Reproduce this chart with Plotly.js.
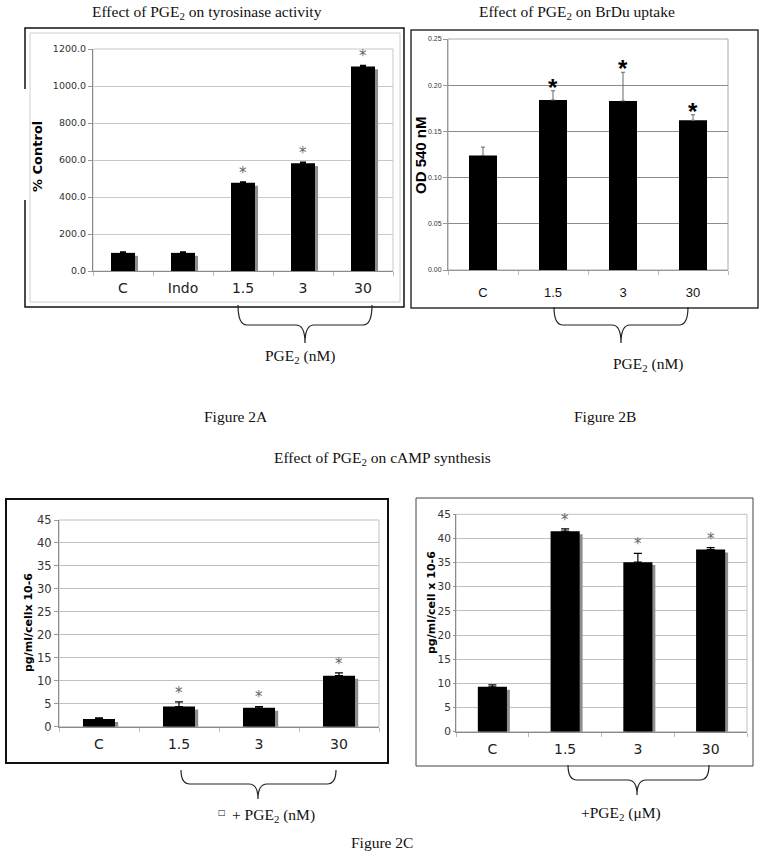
<!DOCTYPE html>
<html><head><meta charset="utf-8">
<script src="https://cdn.plot.ly/plotly-3.0.1.min.js"></script>
<style>html,body{margin:0;padding:0;background:#fff}</style>
</head><body><div id="chart" style="width:764px;height:857px"></div>
<script>
// ---- Figure 2A: tyrosinase activity (% control)
const catsA = ['C', 'Indo', '1.5', '3', '30'];
const valsA = [98, 98, 477, 583, 1106];
const errA  = [6, 5, 5, 6, 6];
const sigA  = [false, false, true, true, true];
// ---- Figure 2B: BrDu uptake (OD 540 nM)
const catsB = ['C', '1.5', '3', '30'];
const valsB = [0.124, 0.184, 0.183, 0.162];
const errB  = [0.009, 0.010, 0.031, 0.006];
const sigB  = [false, true, true, true];
// ---- Figure 2C left: cAMP (nM PGE2)
const catsC1 = ['C', '1.5', '3', '30'];
const valsC1 = [1.7, 4.4, 4.1, 11.1];
const errC1  = [0.2, 1.0, 0.3, 0.6];
const sigC1  = [false, true, true, true];
// ---- Figure 2C right: cAMP (uM PGE2)
const catsC2 = ['C', '1.5', '3', '30'];
const valsC2 = [9.3, 41.5, 35.1, 37.7];
const errC2  = [0.4, 0.5, 1.8, 0.4];
const sigC2  = [false, true, true, true];

const W = 764, H = 857;
const px = x => x / W, py = y => 1 - y / H;
const SERIF = 'Liberation Serif', VERD = 'DejaVu Sans', ARIAL = 'Liberation Sans';

const traces = [];
function addPanel(cats, vals, errs, xa, ya, shadow, errStyle) {
  if (shadow) {
    traces.push({type: 'bar', x: cats, y: vals, base: -shadow.dy, width: 0.4, offset: -0.2 + shadow.dx,
      marker: {color: '#8e8e8e', line: {width: 0}}, xaxis: xa, yaxis: ya, hoverinfo: 'skip'});
  }
  traces.push({type: 'bar', x: cats, y: vals, width: 0.4,
    marker: {color: '#000', line: {width: 0}},
    error_y: Object.assign({type: 'data', symmetric: false, array: errs, arrayminus: errs.map(() => 0)}, errStyle),
    xaxis: xa, yaxis: ya});
}
addPanel(catsA, valsA, errA, 'x', 'y', {dx: 0.05, dy: 16}, {color: '#000', thickness: 1.2, width: 3});
addPanel(catsB, valsB, errB, 'x2', 'y2', null, {color: '#666', thickness: 1, width: 2});
addPanel(catsC1, valsC1, errC1, 'x3', 'y3', {dx: 0.04, dy: 0.65}, {color: '#000', thickness: 1.2, width: 4});
addPanel(catsC2, valsC2, errC2, 'x4', 'y4', {dx: 0.04, dy: 0.62}, {color: '#000', thickness: 1.2, width: 4});

function xax(x0, x1, anchor, n, font, standoff, linecolor) {
  return {domain: [px(x0), px(x1)], anchor: anchor, type: 'category', range: [-0.5, n - 0.5],
    showgrid: false, zeroline: false, showline: true, linecolor: linecolor, linewidth: 1,
    ticks: 'outside', tickson: 'boundaries', ticklen: 4, tickcolor: '#bbb',
    tickfont: font, ticklabelstandoff: standoff, fixedrange: true};
}
function yax(y0, y1, anchor, range, dtick, fmt, font, grid, linecolor, ticklen) {
  return {domain: [py(y1), py(y0)], anchor: anchor, range: range, dtick: dtick, tickformat: fmt,
    showgrid: true, gridcolor: grid, gridwidth: 1, zeroline: false, showline: true, linecolor: linecolor,
    ticks: 'outside', ticklen: ticklen, tickcolor: '#999', tickfont: font, fixedrange: true};
}

const layout = {
  width: W, height: H, margin: {l: 0, r: 0, t: 0, b: 0},
  paper_bgcolor: '#fff', plot_bgcolor: 'rgba(0,0,0,0)', showlegend: false, barmode: 'overlay',
  font: {family: VERD, color: '#000'},
  xaxis:  xax(93, 393, 'y', catsA.length, {family: VERD, size: 14, color: '#222'}, 4, '#8a8a8a'),
  yaxis:  yax(49, 271, 'x', [0, 1200], 200, '.1f', {family: VERD, size: 9.5, color: '#333'}, '#c8c8c8', '#8a8a8a', 4),
  xaxis2: xax(448, 728, 'y2', catsB.length, {family: ARIAL, size: 13, color: '#111'}, 10, '#999'),
  yaxis2: yax(39, 270, 'x2', [0, 0.25], 0.05, '.2f', {family: ARIAL, size: 7, color: '#333'}, '#8c8c8c', '#999', 4),
  xaxis3: xax(59, 379, 'y3', catsC1.length, {family: VERD, size: 14, color: '#222'}, 4, '#8a8a8a'),
  yaxis3: yax(520, 726.7, 'x3', [0, 45], 5, 'd', {family: VERD, size: 11.5, color: '#333'}, '#c0c0c0', '#8a8a8a', 4),
  xaxis4: xax(456, 747, 'y4', catsC2.length, {family: VERD, size: 14, color: '#222'}, 4, '#8a8a8a'),
  yaxis4: yax(514.3, 731.7, 'x4', [0, 45], 5, 'd', {family: VERD, size: 10.5, color: '#333'}, '#c0c0c0', '#8a8a8a', 2),
  shapes: [], annotations: []
};

const S = layout.shapes, A = layout.annotations;
function rect(x0, y0, x1, y1, color, width) {
  S.push({type: 'rect', xref: 'paper', yref: 'paper', x0: px(x0), x1: px(x1), y0: py(y1), y1: py(y0),
    line: {color: color, width: width}, fillcolor: 'rgba(0,0,0,0)', layer: 'above'});
}
function frame(xr, yr, color) {
  S.push({type: 'rect', xref: xr + ' domain', yref: yr + ' domain', x0: 0, x1: 1, y0: 0, y1: 1,
    line: {color: color, width: 1}, layer: 'below'});
}
// panel boxes
rect(25, 28, 404, 307, '#111', 1.5);
rect(30, 33, 400, 302, '#cfcfcf', 1);
S.push({type: 'rect', xref: 'paper', yref: 'paper', x0: px(18), x1: px(29), y0: py(200), y1: py(89),
  line: {width: 0}, fillcolor: '#fff', layer: 'above'});
rect(411, 30, 758, 308, '#333', 1.5);
rect(6, 499, 388, 763, '#111', 2);
rect(416, 498, 753, 766, '#444', 1);
frame('x', 'y', '#c8c8c8');
frame('x2', 'y2', '#aaa');
frame('x3', 'y3', '#c0c0c0');
frame('x4', 'y4', '#c0c0c0');

// braces
function brace(x0, x1, xc, yTop, yMid, yTip, r) {
  const P = (x, y) => px(x).toFixed(5) + ',' + py(y).toFixed(5);
  return 'M' + P(x0, yTop) + ' Q' + P(x0, yMid) + ' ' + P(x0 + r, yMid) + ' L' + P(xc - r, yMid) +
    ' Q' + P(xc, yMid) + ' ' + P(xc, yTip) + ' Q' + P(xc, yMid) + ' ' + P(xc + r, yMid) +
    ' L' + P(x1 - r, yMid) + ' Q' + P(x1, yMid) + ' ' + P(x1, yTop);
}
[[238, 372, 305, 305, 325, 343], [554, 688, 621, 307, 325, 343],
 [181, 336, 258, 770, 784, 799], [568, 709, 637, 765, 780, 795]].forEach(b => {
  S.push({type: 'path', xref: 'paper', yref: 'paper', path: brace(b[0], b[1], b[2], b[3], b[4], b[5], 9),
    line: {color: '#222', width: 1.2}});
});

// text
function txt(x, y, text, font, extra) {
  A.push(Object.assign({xref: 'paper', yref: 'paper', x: px(x), y: py(y), text: text, showarrow: false,
    xanchor: 'center', yanchor: 'middle', font: font}, extra || {}));
}
const tfont = {family: SERIF, size: 15.5, color: '#111'};
txt(207, 13, 'Effect of PGE<sub>2</sub> on tyrosinase activity', tfont);
txt(577, 13, 'Effect of PGE<sub>2</sub> on BrDu uptake', tfont);
txt(300, 356, 'PGE<sub>2</sub> (nM)', tfont);
txt(648, 364, 'PGE<sub>2</sub> (nM)', tfont);
txt(236, 416, 'Figure 2A', tfont);
txt(605, 416, 'Figure 2B', tfont);
txt(382, 458, 'Effect of PGE<sub>2</sub> on cAMP synthesis', tfont);
txt(222, 812, '□', {family: VERD, size: 8, color: '#111'});
txt(273, 815, '+ PGE<sub>2</sub> (nM)', tfont);
txt(621, 813, '+PGE<sub>2</sub> (μM)', tfont);
txt(382, 842, 'Figure 2C', tfont);
// axis titles
txt(37, 157, '<b>% Control</b>', {family: VERD, size: 13, color: '#000'}, {textangle: -90});
txt(421, 155, '<b>OD 540 nM</b>', {family: ARIAL, size: 15, color: '#000'}, {textangle: -90});
txt(28, 622, '<b>pg/ml/cellx 10-6</b>', {family: VERD, size: 11, color: '#000'}, {textangle: -90});
txt(431, 603, '<b>pg/ml/cell x 10-6</b>', {family: VERD, size: 11, color: '#000'}, {textangle: -90});

// significance asterisks (x given as category index)
function stars(cats, vals, errs, sig, xa, ya, font, yshift) {
  cats.forEach((c, i) => {
    if (!sig[i]) return;
    A.push({xref: xa, yref: ya, x: i, y: vals[i] + errs[i], text: '*', showarrow: false,
      xanchor: 'center', yanchor: 'bottom', yshift: yshift, font: font});
  });
}
const gstar = {family: VERD, size: 15, color: '#666'};
stars(catsA, valsA, errA, sigA, 'x', 'y', gstar, -2);
stars(catsB, valsB, errB, sigB, 'x2', 'y2', {family: ARIAL, size: 24, color: '#000', weight: 'bold'}, -12);
stars(catsC1, valsC1, errC1, sigC1, 'x3', 'y3', gstar, -2);
stars(catsC2, valsC2, errC2, sigC2, 'x4', 'y4', gstar, -2);

Plotly.newPlot('chart', traces, layout, {displayModeBar: false, staticPlot: true});
</script></body></html>
